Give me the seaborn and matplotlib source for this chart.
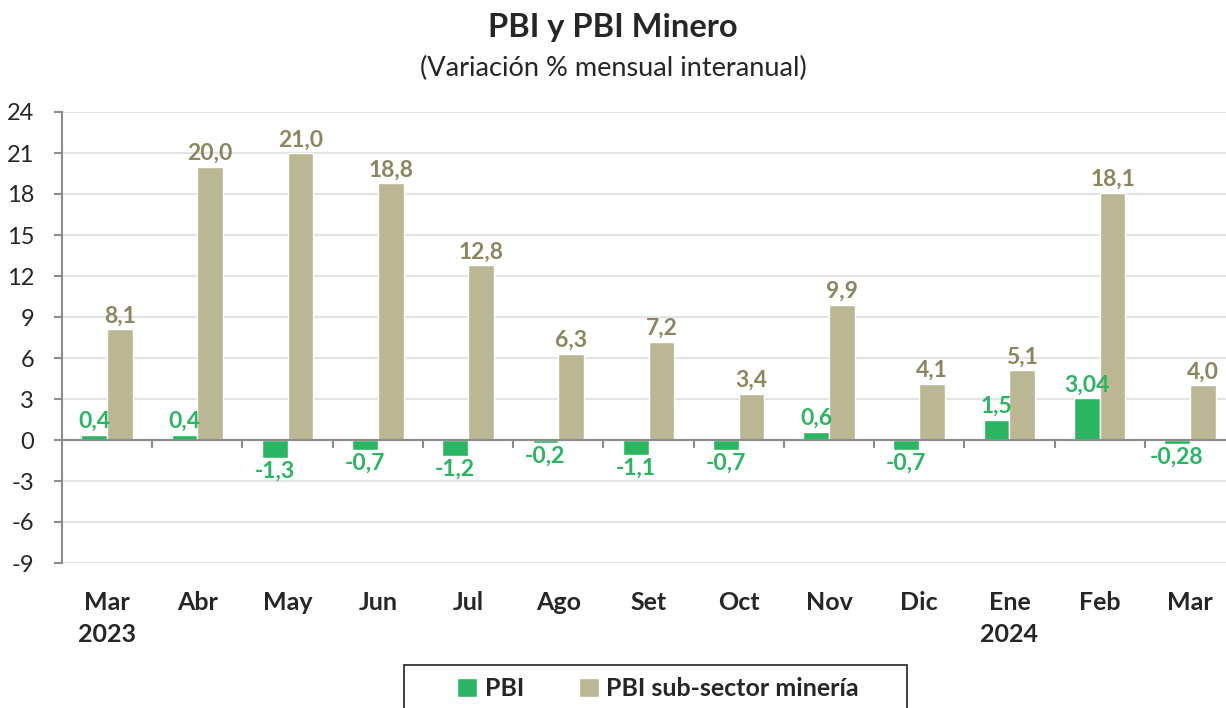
import numpy as np
import pandas as pd
import seaborn as sns
from matplotlib import pyplot as plt
from matplotlib.patches import Rectangle

# datos
meses = ["Mar\n2023", "Abr", "May", "Jun", "Jul", "Ago", "Set", "Oct", "Nov", "Dic", "Ene\n2024", "Feb", "Mar"]
pbi = [0.4, 0.4, -1.3, -0.7, -1.2, -0.2, -1.1, -0.7, 0.6, -0.7, 1.5, 3.04, -0.28]
pbi_etiq = ["0,4", "0,4", "-1,3", "-0,7", "-1,2", "-0,2", "-1,1", "-0,7", "0,6", "-0,7", "1,5", "3,04", "-0,28"]
mineria = [8.1, 20.0, 21.0, 18.8, 12.8, 6.3, 7.2, 3.4, 9.9, 4.1, 5.1, 18.1, 4.0]
mineria_etiq = ["8,1", "20,0", "21,0", "18,8", "12,8", "6,3", "7,2", "3,4", "9,9", "4,1", "5,1", "18,1", "4,0"]
series = ["PBI", "PBI sub-sector minería"]
colores = ["#2bb562", "#bbb693"]
col_etiq = ["#2bb562", "#8c8660"]

df = pd.DataFrame({
    "mes": meses * 2,
    "valor": pbi + mineria,
    "serie": [series[0]] * len(meses) + [series[1]] * len(meses),
})

sns.set_style("white")
plt.rcParams["font.family"] = ["Lato", "DejaVu Sans"]
plt.rcParams["axes.unicode_minus"] = False

fig = plt.figure(figsize=(12.26, 7.08), dpi=100)
ax = fig.add_axes([62 / 1226, 1 - 563 / 708, 1164 / 1226, 451 / 708])

sns.barplot(data=df, x="mes", y="valor", hue="serie", palette=colores,
            width=0.57, ax=ax, legend=True, saturation=1)

ax.set_ylim(-9, 24)
ax.set_xlim(-0.5, 12.4)
ax.set_yticks(np.arange(-9, 25, 3))
ax.yaxis.grid(True, color="#e3e3e3", linewidth=1.5)
ax.set_axisbelow(True)
for s in ["top", "right", "bottom"]:
    ax.spines[s].set_visible(False)
ax.spines["left"].set_color("#8c8c8c")
ax.spines["left"].set_linewidth(1.5)
ax.tick_params(axis="y", left=True, length=6, width=1.5, color="#8c8c8c",
               labelsize=17, pad=14)
ax.tick_params(axis="x", bottom=False, labelsize=18, pad=17)
for t in ax.get_xticklabels():
    t.set_fontweight("bold")
    t.set_linespacing(1.45)
ax.set_xlabel("")
ax.set_ylabel("")

# linea de cero con marcas
ax.axhline(0, color="#8c8c8c", linewidth=1.5, zorder=3)
ax.vlines(np.arange(len(meses)) + 0.5, -0.6, 0, color="#8c8c8c", linewidth=1.5, zorder=3)

# etiquetas de datos
for cont, etiq, c in zip(ax.containers, [pbi_etiq, mineria_etiq], col_etiq):
    ax.bar_label(cont, labels=etiq, padding=2, color=c, fontsize=16.5, fontweight="bold")

fig.text(0.5, 1 - 28 / 708, "PBI y PBI Minero", ha="center", va="center",
         fontsize=23.5, fontweight="bold")
fig.text(0.5, 1 - 68 / 708, "(Variación % mensual interanual)", ha="center", va="center",
         fontsize=19.5)

# leyenda
ax.get_legend().remove()
h, l = ax.get_legend_handles_labels()
fig.patches.append(Rectangle((404 / 1226, -0.05), 503 / 1226, 0.05 + 1 - 665 / 708,
                             transform=fig.transFigure, fill=False,
                             edgecolor="#333333", linewidth=1.3))
fig.legend(h, l, loc="center", bbox_to_anchor=(658 / 1226, 1 - 689 / 708),
           ncol=2, frameon=False, prop={"size": 18, "weight": "bold"},
           handlelength=0.8, handleheight=0.8, handletextpad=0.3,
           columnspacing=2.2, borderaxespad=0)

fig.savefig("out.png", dpi=100)
